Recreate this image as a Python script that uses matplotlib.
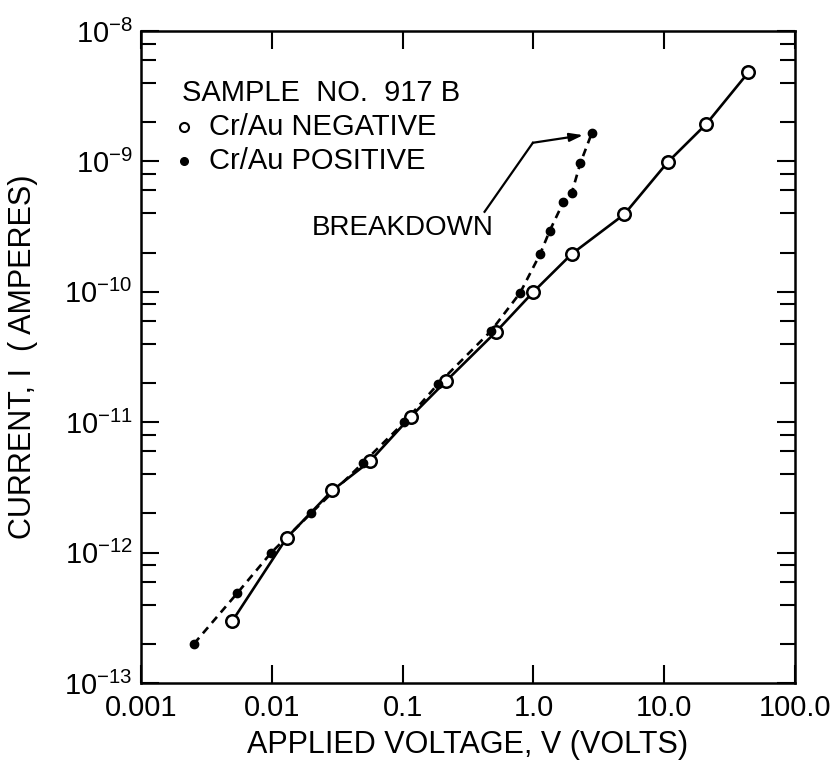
import matplotlib
matplotlib.use("Agg")
import matplotlib.pyplot as plt
from matplotlib.ticker import LogLocator, NullLocator, NullFormatter

plt.rcParams['font.family'] = ['Liberation Sans', 'DejaVu Sans']
plt.rcParams['mathtext.fontset'] = 'custom'
plt.rcParams['mathtext.rm'] = 'Liberation Sans'
plt.rcParams['mathtext.it'] = 'Liberation Sans'

# Cr/Au NEGATIVE (open circles)
neg_v = [0.005, 0.013, 0.029, 0.056, 0.115, 0.216, 0.518, 1.0, 1.96, 4.95, 10.6, 21.0, 44.0]
neg_i = [3.0e-13, 1.3e-12, 3.0e-12, 5.0e-12, 1.1e-11, 2.08e-11, 4.94e-11, 1.0e-10,
         1.95e-10, 3.93e-10, 9.84e-10, 1.94e-9, 4.82e-9]

# Cr/Au POSITIVE (filled dots)
pos_v = [0.00254, 0.00545, 0.0099, 0.0199, 0.050, 0.103, 0.186, 0.473, 0.79,
         1.125, 1.33, 1.69, 1.96, 2.28, 2.80]
pos_i = [2.0e-13, 4.9e-13, 1.0e-12, 2.0e-12, 4.9e-12, 1.0e-11, 1.96e-11, 5.0e-11, 9.8e-11,
         1.95e-10, 2.93e-10, 4.86e-10, 5.7e-10, 9.66e-10, 1.66e-9]

x_ticks = [0.001, 0.01, 0.1, 1.0, 10.0, 100.0]
x_tick_labels = ["0.001", "0.01", "0.1", "1.0", "10.0", "100.0"]
y_ticks = [1e-13, 1e-12, 1e-11, 1e-10, 1e-9, 1e-8]
y_tick_labels = [r"$\mathregular{10^{-13}}$", r"$\mathregular{10^{-12}}$", r"$\mathregular{10^{-11}}$",
                 r"$\mathregular{10^{-10}}$", r"$\mathregular{10^{-9}}$", r"$\mathregular{10^{-8}}$"]

fig = plt.figure(figsize=(8.4, 7.64), dpi=100)
ax = fig.add_axes([0.1679, 0.1060, 0.7786, 0.8534])
ax.set_xscale('log')
ax.set_yscale('log')
ax.set_xlim(0.001, 100.0)
ax.set_ylim(1e-13, 1e-8)

# curves
ax.plot(neg_v, neg_i, color='black', lw=1.9, solid_capstyle='round', zorder=2)
ax.plot(pos_v, pos_i, color='black', lw=1.9, dashes=(3.0, 2.2), zorder=2)
# markers
ax.plot(neg_v, neg_i, linestyle='none', marker='o', ms=9, mfc='white', mec='black', mew=1.8, zorder=3)
ax.plot(pos_v, pos_i, linestyle='none', marker='o', ms=6, mfc='black', mec='black', zorder=4)

# ticks
ax.set_xticks(x_ticks)
ax.set_xticklabels(x_tick_labels)
ax.xaxis.set_minor_locator(NullLocator())
ax.set_yticks(y_ticks)
ax.set_yticklabels(y_tick_labels)
ax.yaxis.set_minor_locator(LogLocator(base=10, subs=(2, 4, 6, 8), numticks=20))
ax.yaxis.set_minor_formatter(NullFormatter())

ax.tick_params(axis='x', which='major', direction='in', length=13, width=1.5,
               top=True, bottom=True, labelsize=21, pad=8)
ax.tick_params(axis='y', which='major', direction='in', length=13, width=1.5,
               left=True, right=True, labelsize=21, pad=6)
ax.tick_params(axis='y', which='minor', direction='in', length=10.5, width=1.5,
               left=True, right=True)
for sp in ax.spines.values():
    sp.set_linewidth(1.8)

ax.set_xlabel("APPLIED VOLTAGE, V (VOLTS)", fontsize=22)
ax.xaxis.set_label_coords(0.5, -0.072)
ax.set_ylabel("CURRENT, I  ( AMPERES)", fontsize=22)
ax.yaxis.set_label_coords(-0.158, 0.5)

# legend-like text
ax.text(0.0627, 0.905, "SAMPLE  NO.  917 B", transform=ax.transAxes, fontsize=21,
        va='center', ha='left')
ax.plot([0.066], [0.853], transform=ax.transAxes, marker='o', ms=6.5, mfc='white',
        mec='black', mew=1.5, linestyle='none', clip_on=False)
ax.text(0.104, 0.853, "Cr/Au NEGATIVE", transform=ax.transAxes, fontsize=21,
        va='center', ha='left')
ax.plot([0.066], [0.800], transform=ax.transAxes, marker='o', ms=5.5, mfc='black',
        mec='black', linestyle='none', clip_on=False)
ax.text(0.104, 0.800, "Cr/Au POSITIVE", transform=ax.transAxes, fontsize=21,
        va='center', ha='left')

# breakdown annotation
ax.text(0.261, 0.698, "BREAKDOWN", transform=ax.transAxes, fontsize=20,
        va='center', ha='left')
ax.plot([0.423, 0.99], [4.11e-10, 1.39e-9], color='black', lw=1.6)
ax.annotate("", xy=(2.4, 1.59e-9), xytext=(0.99, 1.39e-9),
            arrowprops=dict(arrowstyle='-|>,head_length=0.8,head_width=0.25',
                            color='black', lw=1.6, shrinkA=0, shrinkB=0))

fig.savefig("out.png", dpi=100)
